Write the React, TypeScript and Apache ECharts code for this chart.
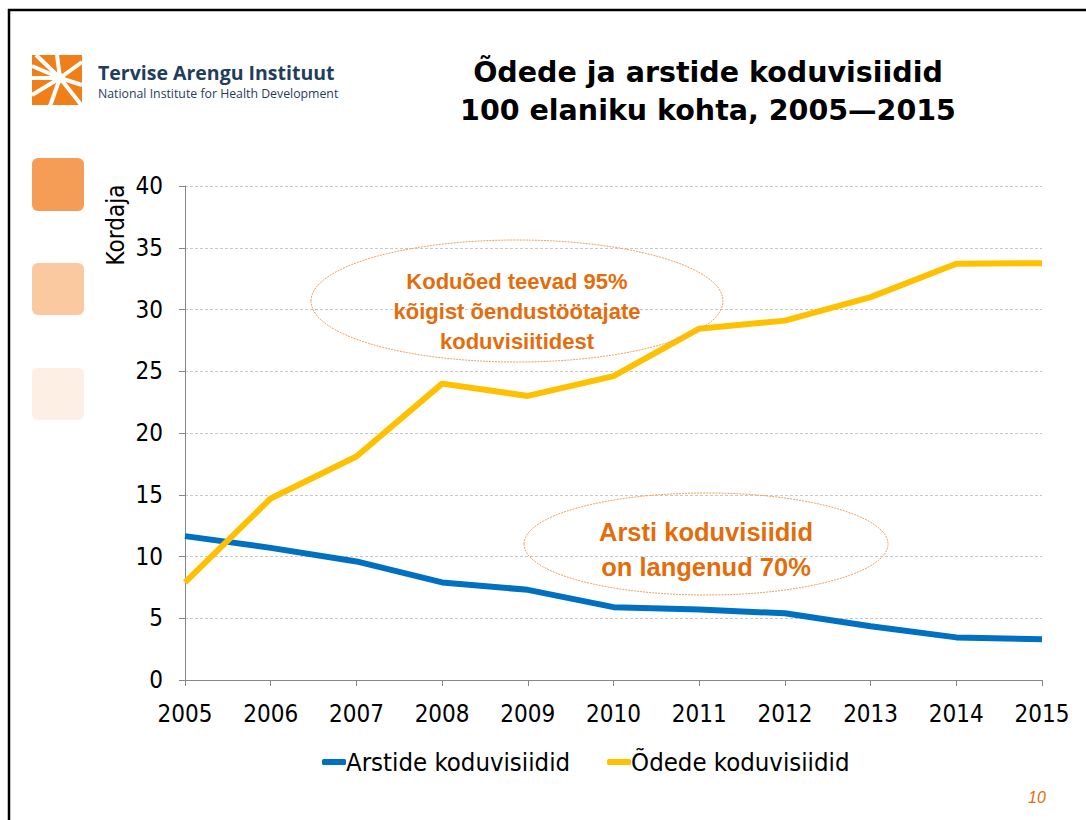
import React, { useEffect, useRef } from "react";
import * as echarts from "echarts";

const years = ["2005", "2006", "2007", "2008", "2009", "2010", "2011", "2012", "2013", "2014", "2015"];
const arstide = [11.65, 10.7, 9.6, 7.9, 7.3, 5.9, 5.7, 5.4, 4.35, 3.45, 3.3];
const odede = [7.9, 14.7, 18.1, 24.0, 23.0, 24.6, 28.45, 29.1, 31.0, 33.7, 33.75];
const seriesNames = ["Arstide koduvisiidid", "Õdede koduvisiidid"];
const titleLines = ["Õdede ja arstide koduvisiidid", "100 elaniku kohta, 2005\u20142015"];
const note1 = ["Koduõed teevad 95%", "kõigist õendustöötajate", "koduvisiitidest"];
const note2 = ["Arsti koduvisiidid", "on langenud 70%"];

const NARROW = "'Liberation Sans Narrow', 'DejaVu Sans Condensed', 'Roboto', sans-serif";
const ORANGE = "#E46C0A";

export default function App() {
  const ref = useRef<HTMLDivElement>(null);
  useEffect(() => {
    const chart = echarts.init(ref.current!, null, { renderer: "svg" });
    const graphic: any[] = [
      // slide border (left and top edges only)
      { type: "line", shape: { x1: 9, y1: 9, x2: 9, y2: 830 }, style: { stroke: "#000", lineWidth: 2.5 }, silent: true, z: 0 },
      { type: "line", shape: { x1: 8, y1: 10, x2: 1100, y2: 10 }, style: { stroke: "#000", lineWidth: 2.5 }, silent: true, z: 0 },
      { type: "rect", shape: { x: 1070, y: 12, width: 20, height: 150 }, style: { fill: "#fff" }, silent: true, z: 0 },
      // logo
      { type: "rect", shape: { x: 32, y: 55, width: 50, height: 50 }, style: { fill: "#F07F1A" }, z: 1 },
      ...[[32, 66], [36, 55], [57, 55], [82, 62], [82, 85], [82, 106], [50, 106], [32, 95], [32, 78]].map(([ex, ey]) => ({
        type: "line", shape: { x1: 60, y1: 78, x2: ex, y2: ey }, style: { stroke: "#fff", lineWidth: 4 }, z: 2,
      })),
      { type: "circle", shape: { cx: 60, cy: 78, r: 5 }, style: { fill: "#fff" }, z: 3 },
      { type: "text", x: 98, y: 72, style: { text: "Tervise Arengu Instituut", font: "bold 19.5px 'Open Sans', sans-serif", fill: "#1F3D5C", verticalAlign: "middle" }, z: 2 },
      { type: "text", x: 98, y: 93, style: { text: "National Institute for Health Development", font: "12.3px 'Open Sans', sans-serif", fill: "#1F3D5C", verticalAlign: "middle" }, z: 2 },
      // decorative squares
      { type: "rect", shape: { x: 32, y: 158, width: 52, height: 53, r: 6 }, style: { fill: "#F59D56" } },
      { type: "rect", shape: { x: 32, y: 263, width: 52, height: 52, r: 6 }, style: { fill: "#FAC9A0" } },
      { type: "rect", shape: { x: 32, y: 368, width: 52, height: 52, r: 6 }, style: { fill: "#FDEFE4" } },
      // title
      { type: "text", x: 708, y: 72, style: { text: titleLines[0], font: "bold 28.5px 'DejaVu Sans', sans-serif", fill: "#000", align: "center", verticalAlign: "middle" } },
      { type: "text", x: 708, y: 110, style: { text: titleLines[1], font: "bold 28.5px 'DejaVu Sans', sans-serif", fill: "#000", align: "center", verticalAlign: "middle" } },
      // y axis name
      { type: "text", x: 116, y: 225, rotation: Math.PI / 2, style: { text: "Kordaja", font: "24px " + NARROW, fill: "#000", align: "center", verticalAlign: "middle" } },
      // annotation 1
      { type: "ellipse", shape: { cx: 517, cy: 301, rx: 206, ry: 61 }, style: { fill: "rgba(255,255,255,0)", stroke: "#F0A060", lineWidth: 1, lineDash: [2, 1] }, z: 20 },
      ...note1.map((t, i) => ({ type: "text", x: 517, y: 281 + i * 30, style: { text: t, font: "bold 22px 'Liberation Sans', sans-serif", fill: ORANGE, align: "center", verticalAlign: "middle" }, z: 21 })),
      // annotation 2
      { type: "ellipse", shape: { cx: 706, cy: 544, rx: 182, ry: 51 }, style: { fill: "rgba(255,255,255,0)", stroke: "#F0A060", lineWidth: 1, lineDash: [2, 1] }, z: 20 },
      ...note2.map((t, i) => ({ type: "text", x: 706, y: 532 + i * 35, style: { text: t, font: "bold 25.5px 'Liberation Sans', sans-serif", fill: ORANGE, align: "center", verticalAlign: "middle" }, z: 21 })),
      // page number
      { type: "text", x: 1037, y: 797, style: { text: "10", font: "italic 16px 'Liberation Sans', sans-serif", fill: ORANGE, align: "center", verticalAlign: "middle" } },
    ];

    chart.setOption({
      animation: false,
      backgroundColor: "#fff",
      grid: { left: 185, right: 44, top: 186, bottom: 140, containLabel: false },
      legend: {
        left: 317,
        top: 744,
        itemGap: 37,
        itemWidth: 24,
        itemHeight: 6,
        icon: "roundRect",
        textStyle: { fontFamily: NARROW, fontSize: 25.5, color: "#000", padding: [0, 0, 0, -5] },
        data: seriesNames,
      },
      xAxis: {
        type: "category",
        data: years,
        boundaryGap: false,
        axisLine: { lineStyle: { color: "#868686", width: 1 } },
        axisTick: { show: true, length: 6, lineStyle: { color: "#868686" } },
        axisLabel: { color: "#000", fontFamily: NARROW, fontSize: 24, margin: 22 },
        splitLine: { show: false },
      },
      yAxis: {
        type: "value",
        min: 0,
        max: 40,
        interval: 5,
        axisLine: { show: true, lineStyle: { color: "#868686", width: 1 } },
        axisTick: { show: true, length: 6, lineStyle: { color: "#868686" } },
        axisLabel: { color: "#000", fontFamily: NARROW, fontSize: 24, margin: 22 },
        splitLine: { show: true, lineStyle: { color: "#C8C8C8", type: [3, 2], width: 1 } },
      },
      series: [
        { name: seriesNames[0], type: "line", data: arstide, showSymbol: false, symbol: "none", color: "#0070C0", lineStyle: { width: 6, color: "#0070C0" }, z: 3 },
        { name: seriesNames[1], type: "line", data: odede, showSymbol: false, symbol: "none", color: "#FFC000", lineStyle: { width: 6, color: "#FFC000" }, z: 4 },
      ],
      graphic,
    });
    return () => chart.dispose();
  }, []);
  return <div ref={ref} style={{ position: "fixed", left: 0, top: 0, width: 1086, height: 820 }} />;
}
